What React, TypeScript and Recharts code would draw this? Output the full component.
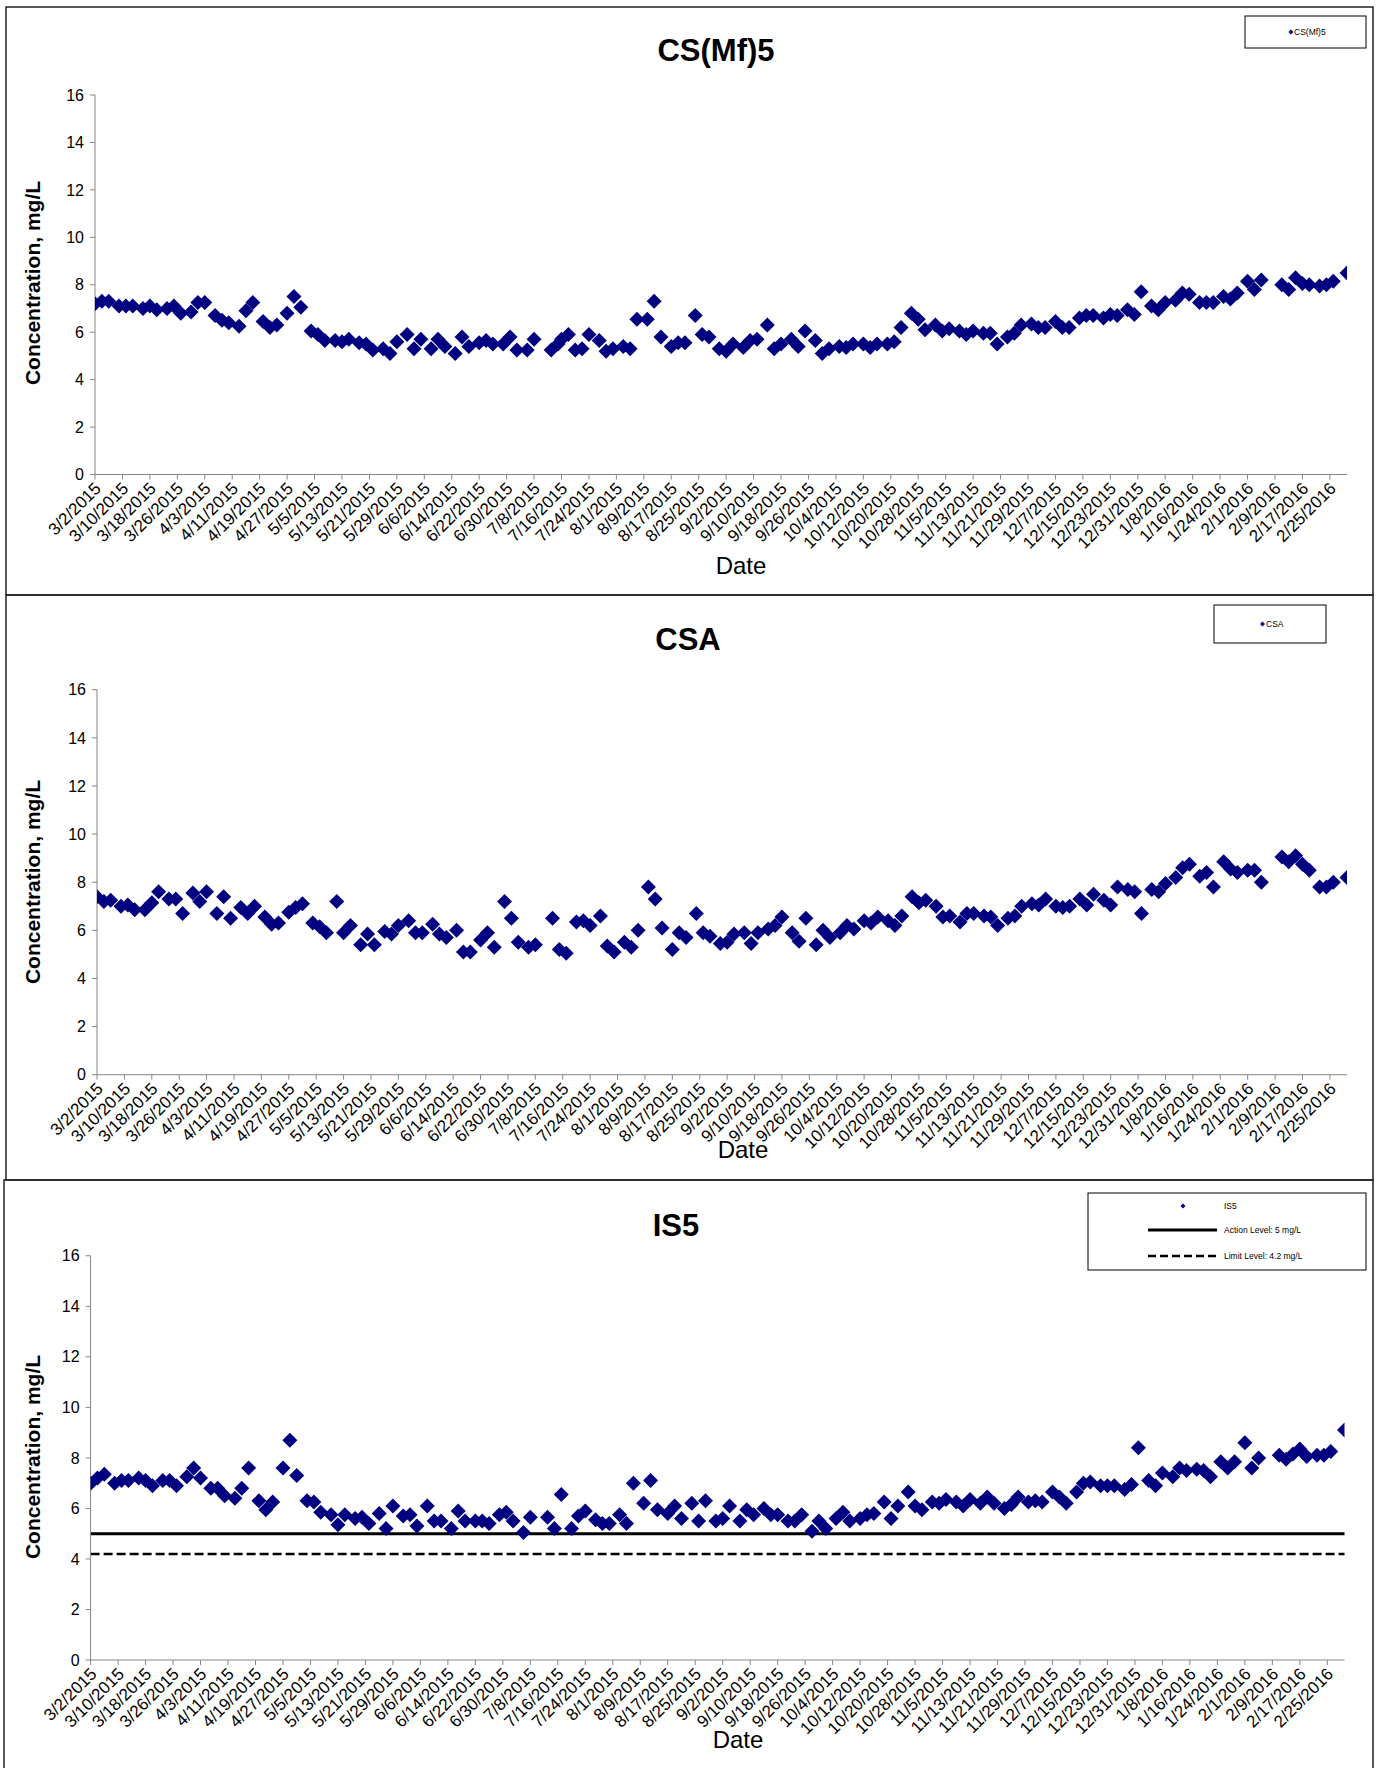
import React from 'react';
import { ScatterChart, Scatter, XAxis, YAxis, ReferenceLine } from 'recharts';

const FONT = '"Liberation Sans", Arial, sans-serif';
const NAVY = '#000080';
const AXIS = '#868686';

// x axis: one label every 8 days
const dateTickLabels = [
  '3/2/2015', '3/10/2015', '3/18/2015', '3/26/2015', '4/3/2015', '4/11/2015', '4/19/2015', '4/27/2015',
  '5/5/2015', '5/13/2015', '5/21/2015', '5/29/2015', '6/6/2015', '6/14/2015', '6/22/2015', '6/30/2015',
  '7/8/2015', '7/16/2015', '7/24/2015', '8/1/2015', '8/9/2015', '8/17/2015', '8/25/2015', '9/2/2015',
  '9/10/2015', '9/18/2015', '9/26/2015', '10/4/2015', '10/12/2015', '10/20/2015', '10/28/2015', '11/5/2015',
  '11/13/2015', '11/21/2015', '11/29/2015', '12/7/2015', '12/15/2015', '12/23/2015', '12/31/2015', '1/8/2016',
  '1/16/2016', '1/24/2016', '2/1/2016', '2/9/2016', '2/17/2016', '2/25/2016',
];
const yTicks = [0, 2, 4, 6, 8, 10, 12, 14, 16];
const axisEndDate = '3/1/2016';

const actionLevel = 5;
const limitLevel = 4.2;

// sample days, counted from 3/2/2015
const csmf5Days = [
  0, 2, 4, 7, 9, 11, 14, 16, 18, 21,
  23, 25, 28, 30, 32, 35, 37, 39, 42, 44,
  46, 49, 51, 53, 56, 58, 60, 63, 65, 67,
  70, 72, 74, 77, 79, 81, 84, 86, 88, 91,
  93, 95, 98, 100, 102, 105, 107, 109, 112, 114,
  116, 119, 121, 123, 126, 128, 133, 135, 136, 138,
  140, 142, 144, 147, 149, 151, 154, 156, 158, 161,
  163, 165, 168, 170, 172, 175, 177, 179, 182, 184,
  186, 189, 191, 193, 196, 198, 200, 203, 205, 207,
  210, 212, 214, 217, 219, 221, 224, 226, 228, 231,
  233, 235, 238, 240, 242, 245, 247, 249, 252, 254,
  256, 259, 261, 263, 266, 268, 270, 273, 275, 277,
  280, 282, 284, 287, 289, 291, 294, 296, 298, 301,
  303, 305, 308, 310, 312, 315, 317, 319, 322, 324,
  326, 329, 331, 333, 336, 338, 340, 346, 348, 350,
  352, 354, 357, 359, 361, 365,
];
const csmf5Values = [
  7.2, 7.3, 7.3, 7.1, 7.1, 7.1, 7.0, 7.1, 6.95, 7.0,
  7.1, 6.8, 6.85, 7.25, 7.25, 6.7, 6.5, 6.4, 6.25, 6.9,
  7.25, 6.45, 6.2, 6.3, 6.8, 7.5, 7.05, 6.05, 5.9, 5.65,
  5.65, 5.6, 5.7, 5.55, 5.5, 5.25, 5.3, 5.1, 5.6, 5.9,
  5.3, 5.7, 5.3, 5.7, 5.4, 5.1, 5.8, 5.4, 5.55, 5.65,
  5.5, 5.5, 5.8, 5.25, 5.25, 5.7, 5.25, 5.5, 5.7, 5.9,
  5.25, 5.3, 5.9, 5.65, 5.2, 5.3, 5.4, 5.3, 6.55, 6.55,
  7.3, 5.8, 5.4, 5.55, 5.55, 6.7, 5.9, 5.8, 5.3, 5.2,
  5.5, 5.35, 5.65, 5.7, 6.3, 5.3, 5.5, 5.7, 5.4, 6.05,
  5.65, 5.1, 5.3, 5.4, 5.35, 5.5, 5.5, 5.35, 5.5, 5.5,
  5.6, 6.2, 6.8, 6.55, 6.1, 6.3, 6.05, 6.15, 6.05, 5.9,
  6.05, 5.95, 5.95, 5.5, 5.8, 5.95, 6.3, 6.35, 6.2, 6.2,
  6.45, 6.2, 6.2, 6.6, 6.7, 6.7, 6.6, 6.75, 6.7, 6.95,
  6.75, 7.7, 7.1, 6.95, 7.25, 7.35, 7.65, 7.6, 7.25, 7.25,
  7.25, 7.5, 7.4, 7.65, 8.15, 7.8, 8.2, 8.0, 7.8, 8.3,
  8.05, 8.0, 7.95, 8.0, 8.15, 8.5,
];

// CSA and IS5 were sampled on the same days
const sampleDays = [
  0, 2, 4, 7, 9, 11, 14, 16, 18, 21,
  23, 25, 28, 30, 32, 35, 37, 39, 42, 44,
  46, 49, 51, 53, 56, 58, 60, 63, 65, 67,
  70, 72, 74, 77, 79, 81, 84, 86, 88, 91,
  93, 95, 98, 100, 102, 105, 107, 109, 112, 114,
  116, 119, 121, 123, 126, 128, 133, 135, 137, 140,
  142, 144, 147, 149, 151, 154, 156, 158, 161, 163,
  165, 168, 170, 172, 175, 177, 179, 182, 184, 186,
  189, 191, 193, 196, 198, 200, 203, 205, 207, 210,
  212, 214, 217, 219, 221, 224, 226, 228, 231, 233,
  235, 238, 240, 242, 245, 247, 249, 252, 254, 256,
  259, 261, 263, 266, 268, 270, 273, 275, 277, 280,
  282, 284, 287, 289, 291, 294, 296, 298, 301, 303,
  305, 308, 310, 312, 315, 317, 319, 322, 324, 326,
  329, 331, 333, 336, 338, 340, 346, 348, 350, 352,
  354, 357, 359, 361, 365,
];
const csaValues = [
  7.4, 7.2, 7.25, 7.0, 7.05, 6.85, 6.85, 7.15, 7.6, 7.3,
  7.3, 6.7, 7.55, 7.2, 7.6, 6.7, 7.4, 6.5, 6.95, 6.7,
  7.0, 6.55, 6.25, 6.3, 6.75, 6.95, 7.1, 6.3, 6.15, 5.9,
  7.2, 5.9, 6.2, 5.4, 5.85, 5.4, 5.95, 5.85, 6.2, 6.4,
  5.9, 5.9, 6.25, 5.85, 5.7, 6.0, 5.1, 5.1, 5.6, 5.9,
  5.3, 7.2, 6.5, 5.5, 5.3, 5.4, 6.5, 5.2, 5.05, 6.35,
  6.4, 6.2, 6.6, 5.35, 5.1, 5.5, 5.3, 6.0, 7.8, 7.3,
  6.1, 5.2, 5.9, 5.7, 6.7, 5.9, 5.75, 5.45, 5.5, 5.85,
  5.9, 5.45, 5.9, 6.05, 6.2, 6.55, 5.9, 5.55, 6.5, 5.4,
  6.0, 5.7, 5.9, 6.2, 6.05, 6.4, 6.3, 6.55, 6.4, 6.2,
  6.6, 7.4, 7.15, 7.25, 7.0, 6.55, 6.6, 6.35, 6.7, 6.7,
  6.6, 6.55, 6.2, 6.5, 6.6, 7.0, 7.1, 7.05, 7.3, 7.0,
  6.95, 7.0, 7.3, 7.05, 7.5, 7.25, 7.05, 7.8, 7.7, 7.6,
  6.7, 7.7, 7.6, 7.95, 8.2, 8.6, 8.75, 8.25, 8.4, 7.8,
  8.85, 8.55, 8.4, 8.5, 8.5, 8.0, 9.05, 8.85, 9.1, 8.75,
  8.5, 7.8, 7.8, 8.0, 8.2,
];
const is5Values = [
  7.0, 7.2, 7.35, 7.0, 7.1, 7.1, 7.2, 7.1, 6.9, 7.1,
  7.1, 6.9, 7.25, 7.6, 7.2, 6.8, 6.8, 6.5, 6.4, 6.8,
  7.6, 6.3, 5.95, 6.25, 7.6, 8.7, 7.3, 6.3, 6.25, 5.85,
  5.75, 5.35, 5.75, 5.6, 5.65, 5.4, 5.8, 5.2, 6.1, 5.7,
  5.75, 5.3, 6.1, 5.5, 5.5, 5.2, 5.9, 5.5, 5.5, 5.5,
  5.4, 5.75, 5.85, 5.5, 5.05, 5.65, 5.65, 5.2, 6.55, 5.2,
  5.7, 5.9, 5.55, 5.4, 5.4, 5.75, 5.4, 7.0, 6.2, 7.1,
  5.95, 5.8, 6.1, 5.6, 6.2, 5.5, 6.3, 5.5, 5.6, 6.1,
  5.5, 5.95, 5.75, 6.0, 5.75, 5.75, 5.5, 5.5, 5.75, 5.1,
  5.5, 5.2, 5.6, 5.85, 5.5, 5.6, 5.75, 5.8, 6.25, 5.6,
  6.1, 6.65, 6.1, 5.95, 6.25, 6.2, 6.35, 6.25, 6.1, 6.35,
  6.2, 6.45, 6.2, 6.0, 6.15, 6.45, 6.25, 6.3, 6.25, 6.65,
  6.45, 6.2, 6.65, 7.0, 7.05, 6.9, 6.9, 6.9, 6.75, 6.95,
  8.4, 7.1, 6.9, 7.4, 7.25, 7.6, 7.5, 7.55, 7.5, 7.25,
  7.85, 7.6, 7.85, 8.6, 7.6, 8.0, 8.1, 7.95, 8.15, 8.35,
  8.05, 8.1, 8.1, 8.25, 9.1,
];

const START = Date.UTC(2015, 2, 2);
const toDay = (s: string) => {
  const [m, d, y] = s.split('/').map(Number);
  return Math.round((Date.UTC(y, m - 1, d) - START) / 86400000);
};
const tickDays = dateTickLabels.map(toDay);
const tickLabelByDay = new Map(tickDays.map((d, i) => [d, dateTickLabels[i]]));
const zip = (days: number[], values: number[]) => days.map((day, i) => ({ day, value: values[i] }));

const Diamond = (props: any) => {
  const { cx, cy } = props;
  if (cx == null || cy == null) return null;
  const r = 7.5;
  return <polygon points={`${cx},${cy - r} ${cx + r},${cy} ${cx},${cy + r} ${cx - r},${cy}`} fill={NAVY} />;
};

const DateTick = (props: any) => {
  const { x, y, payload } = props;
  const px = x + 7;
  const py = y + 8;
  return (
    <text x={px} y={py} transform={`rotate(-45 ${px} ${py})`} textAnchor="end"
      fontSize={17} fontFamily={FONT} fill="#000">
      {tickLabelByDay.get(payload.value) ?? ''}
    </text>
  );
};

type Box = { l: number; t: number; r: number; b: number };
const X_H = 80;
const Y_W = 60;

const Panel = ({ box, plot, data, limits }: { box: Box; plot: Box; data: any[]; limits?: boolean }) => {
  const margin = {
    left: plot.l - box.l - Y_W,
    top: plot.t - box.t,
    right: box.r - plot.r,
    bottom: box.b - plot.b - X_H,
  };
  return (
    <div style={{ position: 'absolute', left: box.l, top: box.t }}>
      <ScatterChart width={box.r - box.l} height={box.b - box.t} margin={margin}>
        <XAxis type="number" dataKey="day" domain={[0, toDay(axisEndDate)]} ticks={tickDays} interval={0}
          height={X_H} tickSize={5} axisLine={{ stroke: AXIS }} tickLine={{ stroke: AXIS }}
          tick={(p: any) => <DateTick {...p} />} allowDataOverflow />
        <YAxis type="number" dataKey="value" domain={[0, 16]} ticks={yTicks} interval={0} width={Y_W}
          tickSize={5} tickMargin={6} axisLine={{ stroke: AXIS }} tickLine={{ stroke: AXIS }}
          tick={{ fontSize: 16, fill: '#000', fontFamily: FONT }} allowDataOverflow />
        {limits && <ReferenceLine y={actionLevel} stroke="#000" strokeWidth={3} />}
        {limits && <ReferenceLine y={limitLevel} stroke="#000" strokeWidth={2.5} strokeDasharray="9 4" />}
        <Scatter data={data} shape={Diamond} fill={NAVY} isAnimationActive={false} />
      </ScatterChart>
    </div>
  );
};

const LegendDiamond = ({ x, y }: { x: number; y: number }) => (
  <polygon points={`${x},${y - 2.5} ${x + 2.5},${y} ${x},${y + 2.5} ${x - 2.5},${y}`} fill={NAVY} />
);

const App = () => {
  const titleStyle = { fontFamily: FONT, fontWeight: 700, fontSize: 31 } as const;
  const yLabel = (cy: number) => (
    <text x={40} y={cy} transform={`rotate(-90 40 ${cy})`} textAnchor="middle"
      style={{ fontFamily: FONT, fontWeight: 700, fontSize: 21 }}>Concentration, mg/L</text>
  );
  const dateLabel = (x: number, y: number) => (
    <text x={x} y={y} textAnchor="middle" style={{ fontFamily: FONT, fontSize: 24 }}>Date</text>
  );
  const legendText = { fontFamily: FONT, fontSize: 8.5 } as const;

  return (
    <div style={{ position: 'absolute', left: 0, top: 0, width: 1376, height: 1768, overflow: 'hidden', background: '#fff' }}>
      <Panel box={{ l: 6, t: 7, r: 1373, b: 595 }} plot={{ l: 95, t: 95, r: 1347, b: 474.5 }}
        data={zip(csmf5Days, csmf5Values)} />
      <Panel box={{ l: 6, t: 595, r: 1373, b: 1180 }} plot={{ l: 97, t: 689.7, r: 1347, b: 1074.7 }}
        data={zip(sampleDays, csaValues)} />
      <Panel box={{ l: 4, t: 1180, r: 1373, b: 1767 }} plot={{ l: 90.6, t: 1255.75, r: 1344.5, b: 1660 }}
        data={zip(sampleDays, is5Values)} limits />

      <svg width={1376} height={1768} style={{ position: 'absolute', left: 0, top: 0, pointerEvents: 'none' }}>
        <rect x={6} y={7} width={1367} height={588} fill="none" stroke="#222" strokeWidth={1.5} />
        <rect x={6} y={595} width={1367} height={585} fill="none" stroke="#222" strokeWidth={1.5} />
        <path d="M4,1780 L4,1180 L1373,1180 L1373,1780" fill="none" stroke="#222" strokeWidth={1.5} />

        <text x={716} y={61} textAnchor="middle" style={titleStyle}>CS(Mf)5</text>
        <text x={688} y={650} textAnchor="middle" style={titleStyle}>CSA</text>
        <text x={676} y={1236} textAnchor="middle" style={titleStyle}>IS5</text>

        {yLabel(283)}
        {yLabel(882)}
        {yLabel(1457)}

        {dateLabel(741, 574)}
        {dateLabel(743, 1158)}
        {dateLabel(738, 1748)}

        <rect x={1245} y={16} width={121} height={32} fill="#fff" stroke="#000" strokeWidth={1} />
        <LegendDiamond x={1291} y={32} />
        <text x={1294} y={35} style={legendText}>CS(Mf)5</text>

        <rect x={1214} y={605} width={112} height={38} fill="#fff" stroke="#000" strokeWidth={1} />
        <LegendDiamond x={1262.5} y={624} />
        <text x={1266} y={627} style={legendText}>CSA</text>

        <rect x={1088} y={1193} width={278} height={77} fill="#fff" stroke="#000" strokeWidth={1} />
        <LegendDiamond x={1183} y={1206} />
        <text x={1224} y={1209} style={legendText}>IS5</text>
        <line x1={1148} y1={1230} x2={1217} y2={1230} stroke="#000" strokeWidth={3} />
        <text x={1224} y={1233} style={legendText}>Action Level: 5 mg/L</text>
        <line x1={1148} y1={1256} x2={1217} y2={1256} stroke="#000" strokeWidth={2.5} strokeDasharray="8 4" />
        <text x={1224} y={1259} style={legendText}>Limit Level: 4.2 mg/L</text>
      </svg>
    </div>
  );
};

export default App;
